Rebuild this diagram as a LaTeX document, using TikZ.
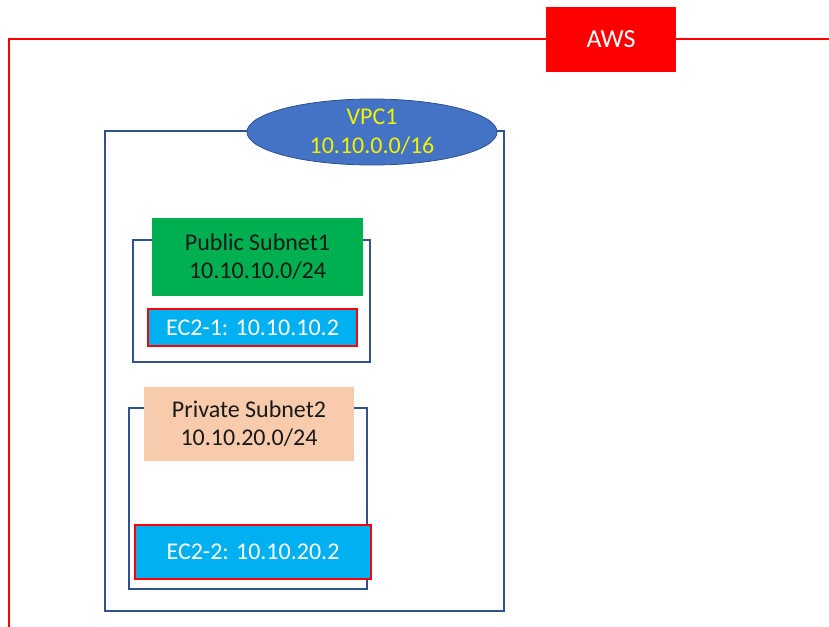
\documentclass[tikz,border=0pt]{standalone}
\usepackage{fontspec}
\setmainfont{Carlito}
\usetikzlibrary{positioning,shapes.geometric}

\definecolor{vpcblue}{HTML}{2F528F}
\definecolor{ellblue}{HTML}{4472C4}
\definecolor{pubgreen}{HTML}{00B050}
\definecolor{privpeach}{HTML}{F8CBAD}
\definecolor{ec2cyan}{HTML}{00B0F0}
\definecolor{vpcyellow}{HTML}{F2F200}

\begin{document}
\begin{tikzpicture}[x=1pt, y=-1pt,
    box/.style={rectangle, draw=vpcblue, line width=1.2pt, inner sep=0pt},
    label/.style={rectangle, inner sep=0pt, align=center, text=black!90, font=\fontsize{24}{28}\selectfont},
    ec2/.style={rectangle, fill=ec2cyan, draw=red, line width=1.6pt, inner sep=0pt, text=white, font=\fontsize{24}{28}\selectfont}]

\path[use as bounding box, clip] (0,0) rectangle (829,626);

% AWS frame
\coordinate (frameb) at (9,640);
\coordinate (framer) at (845,39);
\draw[red, line width=1.2pt] (frameb) |- (framer);
\node (aws) [rectangle, fill=red, minimum width=130pt, minimum height=65pt, text=white, font=\fontsize{26}{30}\selectfont] at (611,39.5) {AWS};

% VPC
\node (vpc) [box, minimum width=399pt, minimum height=480pt] at (304.5,371) {};
\node (vpclbl) [ellipse, fill=ellblue, draw=vpcblue, line width=0.8pt, inner sep=0pt, minimum width=250pt, minimum height=66pt, align=center, text=vpcyellow, font=\fontsize{24}{29}\selectfont] at (372,132) {VPC1\\10.10.0.0/16};

% public subnet
\node (pubnet) [box, minimum width=237pt, minimum height=122pt] at (251.5,301) {};
\node (publbl) [label, fill=pubgreen, minimum width=211pt, minimum height=78pt] at (257.5,257) {Public Subnet1\\10.10.10.0/24};
\node (ec2a) [ec2, minimum width=209pt, minimum height=37pt, below=12pt of publbl, xshift=-5pt] {EC2-1: 10.10.10.2};

% private subnet
\node (privnet) [box, minimum width=238pt, minimum height=181pt] at (248,498.5) {};
\node (privlbl) [label, fill=privpeach, minimum width=210pt, minimum height=74pt] at (249,424) {Private Subnet2\\10.10.20.0/24};
\node (ec2b) [ec2, minimum width=236pt, minimum height=54pt, below=63pt of privlbl, xshift=4pt] {EC2-2: 10.10.20.2};

\end{tikzpicture}
\end{document}
